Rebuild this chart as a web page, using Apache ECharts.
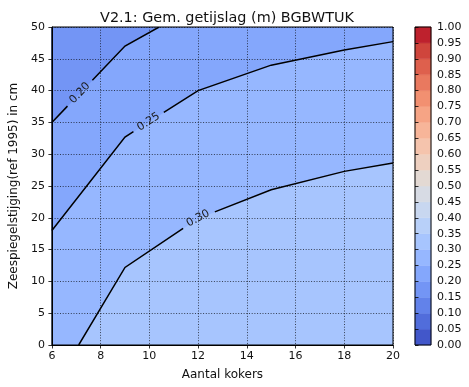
<!DOCTYPE html>
<html>
<head>
<meta charset="utf-8">
<script src="https://cdn.jsdelivr.net/npm/echarts@6/dist/echarts.min.js"></script>
<style>
  html, body { margin: 0; padding: 0; background: #fff; }
  #chart { width: 469px; height: 387px; }
</style>
</head>
<body>
<div id="chart"></div>
<script>
// ---- chart text ----
const chartTitle = 'V2.1: Gem. getijslag (m) BGBWTUK';
const xAxisName = 'Aantal kokers';
const yAxisName = 'Zeespiegelstijging(ref 1995) in cm';

// ---- axis ranges ----
const xRange = [6, 20];
const yRange = [0, 50];

// ---- colour levels of the filled contours (also the colour bar ticks) ----
const levels = [0.00, 0.05, 0.10, 0.15, 0.20, 0.25, 0.30, 0.35, 0.40, 0.45, 0.50,
                0.55, 0.60, 0.65, 0.70, 0.75, 0.80, 0.85, 0.90, 0.95, 1.00];

// ---- iso-lines of mean tidal range (x = aantal kokers, y = zeespiegelstijging) ----
const contour020 = [[6, 35], [9, 47], [10.4, 50]];
const contour025 = [[6, 18], [9, 32.7], [12, 40], [15, 44], [18, 46.4], [20, 47.7]];
const contour030 = [[7.1, 0], [9, 12.2], [12, 19.9], [15, 24.4], [18, 27.3], [20, 28.6]];
const contourValues = [0.20, 0.25, 0.30];
const contourLabelX = [7.15, 9.97, 12.0];

const contours = [contour020, contour025, contour030];

// ---- coolwarm colour map ----
const coolwarmTable = [
  [59,76,192],[68,90,204],[77,104,215],[87,117,225],[98,130,234],[108,142,241],
  [119,154,247],[130,165,251],[141,176,254],[152,185,255],[163,194,255],[174,201,253],
  [184,208,249],[194,213,244],[204,217,238],[213,219,230],[221,221,221],[229,216,209],
  [236,211,197],[241,204,185],[245,196,173],[247,187,160],[247,177,148],[247,166,135],
  [244,154,123],[241,141,111],[236,127,99],[229,112,88],[222,96,77],[213,80,66],
  [203,62,56],[192,40,47],[180,4,38]
];
function coolwarm(t) {
  const p = Math.max(0, Math.min(1, t)) * (coolwarmTable.length - 1);
  const i = Math.min(Math.floor(p), coolwarmTable.length - 2);
  const f = p - i;
  const a = coolwarmTable[i], b = coolwarmTable[i + 1];
  const c = a.map((v, k) => Math.round(v + (b[k] - v) * f));
  return 'rgb(' + c.join(',') + ')';
}
// colour of bin between levels[i] and levels[i+1]
function binColor(i) {
  const lo = levels[i], hi = levels[i + 1];
  return coolwarm(((lo + hi) / 2 - levels[0]) / (levels[levels.length - 1] - levels[0]));
}
function binOf(v) {
  for (let i = 0; i < levels.length - 1; i++) {
    if (v >= levels[i] - 1e-9 && v < levels[i + 1] - 1e-9) return i;
  }
  return levels.length - 2;
}

// ---- filled regions: whole field, then the low-value side of each iso-line ----
function regionAbove(line) {
  const pts = line.slice();
  const last = pts[pts.length - 1];
  if (last[0] >= xRange[1]) pts.push([xRange[1], yRange[1]]);
  pts.push([xRange[0], yRange[1]]);
  if (line[0][1] <= yRange[0]) pts.push([xRange[0], yRange[0]]);
  return pts;
}
const fullField = [[xRange[0], yRange[0]], [xRange[1], yRange[0]], [xRange[1], yRange[1]], [xRange[0], yRange[1]]];
const regions = [
  { poly: fullField, bin: binOf(contourValues[2]) },
  { poly: regionAbove(contour030), bin: binOf(contourValues[2]) - 1 },
  { poly: regionAbove(contour025), bin: binOf(contourValues[1]) - 1 },
  { poly: regionAbove(contour020), bin: binOf(contourValues[0]) - 1 }
];

const FONT = '"DejaVu Sans", Verdana, sans-serif';
const TXT = '#111';

function renderRegion(params, api) {
  const r = regions[api.value(0)];
  return {
    type: 'polygon',
    shape: { points: r.poly.map(p => api.coord(p)) },
    style: { fill: binColor(r.bin), stroke: binColor(r.bin), lineWidth: 0.5 }
  };
}

// iso-line with an inline value label (line broken where the label sits)
function renderContour(params, api) {
  const idx = api.value(0);
  const pts = contours[idx].map(p => api.coord(p));
  const cum = [0];
  for (let k = 1; k < pts.length; k++) {
    cum.push(cum[k - 1] + Math.hypot(pts[k][0] - pts[k - 1][0], pts[k][1] - pts[k - 1][1]));
  }
  const pointAt = s => {
    for (let k = 1; k < pts.length; k++) {
      if (s <= cum[k] || k === pts.length - 1) {
        const f = (s - cum[k - 1]) / (cum[k] - cum[k - 1]);
        return [pts[k - 1][0] + f * (pts[k][0] - pts[k - 1][0]), pts[k - 1][1] + f * (pts[k][1] - pts[k - 1][1])];
      }
    }
    return pts[pts.length - 1];
  };
  const ax = api.coord([contourLabelX[idx], yRange[0]])[0];
  let s0 = 0;
  for (let k = 1; k < pts.length; k++) {
    if (ax >= pts[k - 1][0] && ax <= pts[k][0]) {
      const f = (ax - pts[k - 1][0]) / (pts[k][0] - pts[k - 1][0]);
      s0 = cum[k - 1] + f * (cum[k] - cum[k - 1]);
      break;
    }
  }
  const half = 18;
  const sA = s0 - half, sB = s0 + half;
  const a = pointAt(sA), b = pointAt(sB);
  const before = [];
  for (let k = 0; k < pts.length; k++) if (cum[k] < sA) before.push(pts[k]);
  before.push(a);
  const after = [b];
  for (let k = 0; k < pts.length; k++) if (cum[k] > sB) after.push(pts[k]);
  const c = pointAt(s0);
  const rot = Math.atan2(-(b[1] - a[1]), b[0] - a[0]);
  const lineStyle = { stroke: '#000', lineWidth: 1.5, fill: null };
  return {
    type: 'group',
    children: [
      { type: 'polyline', shape: { points: before }, style: lineStyle },
      { type: 'polyline', shape: { points: after }, style: lineStyle },
      {
        type: 'text', x: c[0], y: c[1], rotation: rot,
        style: {
          text: contourValues[idx].toFixed(2), fill: '#1a1a1a',
          font: '11px ' + FONT, align: 'center', verticalAlign: 'middle'
        }
      }
    ]
  };
}

// colour bar bins
function renderBin(params, api) {
  const i = api.value(0);
  const p0 = api.coord([0, levels[i]]);
  const p1 = api.coord([1, levels[i + 1]]);
  return {
    type: 'rect',
    shape: { x: p0[0], y: p1[1], width: p1[0] - p0[0], height: p0[1] - p1[1] },
    style: { fill: binColor(i), stroke: binColor(i), lineWidth: 0.5 }
  };
}

const chart = echarts.init(document.getElementById('chart'), null, { renderer: 'canvas' });

const gridLine = { show: true, lineStyle: { color: '#000', width: 0.8, type: [1, 1.7], opacity: 0.85 } };

chart.setOption({
  animation: false,
  backgroundColor: '#fff',
  title: {
    text: chartTitle, left: 222, top: 6, textAlign: 'center',
    textStyle: { fontFamily: FONT, fontSize: 14.4, fontWeight: 'normal', color: TXT }
  },
  grid: [
    { left: 51, top: 27, width: 342, height: 318, show: true, z: 10,
      backgroundColor: 'transparent', borderColor: '#000', borderWidth: 1 },
    { left: 415, top: 27, width: 16, height: 318, show: true, z: 10,
      backgroundColor: 'transparent', borderColor: '#000', borderWidth: 1 }
  ],
  xAxis: [
    { gridIndex: 0, type: 'value', min: xRange[0], max: xRange[1], interval: 2, z: 5,
      name: xAxisName, nameLocation: 'middle', nameGap: 24,
      nameTextStyle: { fontFamily: FONT, fontSize: 12, color: TXT },
      axisLine: { show: true, onZero: false, lineStyle: { color: '#000', width: 1 } },
      axisTick: { show: true, length: 3.5, lineStyle: { color: '#000', width: 0.8 } },
      axisLabel: { margin: 6, fontFamily: FONT, fontSize: 11, color: TXT },
      splitLine: gridLine },
    { gridIndex: 1, type: 'value', min: 0, max: 1, show: false }
  ],
  yAxis: [
    { gridIndex: 0, type: 'value', min: yRange[0], max: yRange[1], interval: 5, z: 5,
      name: yAxisName, nameLocation: 'middle', nameGap: 28, nameRotate: 90,
      nameTextStyle: { fontFamily: FONT, fontSize: 12, color: TXT },
      axisLine: { show: true, onZero: false, lineStyle: { color: '#000', width: 1 } },
      axisTick: { show: true, length: 3.5, lineStyle: { color: '#000', width: 0.8 } },
      axisLabel: { margin: 7, fontFamily: FONT, fontSize: 11, color: TXT },
      splitLine: gridLine },
    { gridIndex: 1, type: 'value', min: levels[0], max: levels[levels.length - 1], interval: 0.05,
      position: 'right', z: 5,
      axisLine: { show: false },
      axisTick: { show: true, length: 3.5, lineStyle: { color: '#000', width: 0.8 } },
      axisLabel: { margin: 6, fontFamily: FONT, fontSize: 11, color: TXT,
                   formatter: v => v.toFixed(2) },
      splitLine: { show: false } }
  ],
  series: [
    { type: 'custom', xAxisIndex: 0, yAxisIndex: 0, z: 1, clip: true,
      renderItem: renderRegion, data: regions.map((r, i) => [i]), encode: { x: [], y: [] } },
    { type: 'custom', xAxisIndex: 0, yAxisIndex: 0, z: 6, clip: true,
      renderItem: renderContour, data: contours.map((c, i) => [i]), encode: { x: [], y: [] } },
    { type: 'custom', xAxisIndex: 1, yAxisIndex: 1, z: 1,
      renderItem: renderBin, data: levels.slice(0, -1).map((l, i) => [i]), encode: { x: [], y: [] } }
  ]
});
</script>
</body>
</html>
